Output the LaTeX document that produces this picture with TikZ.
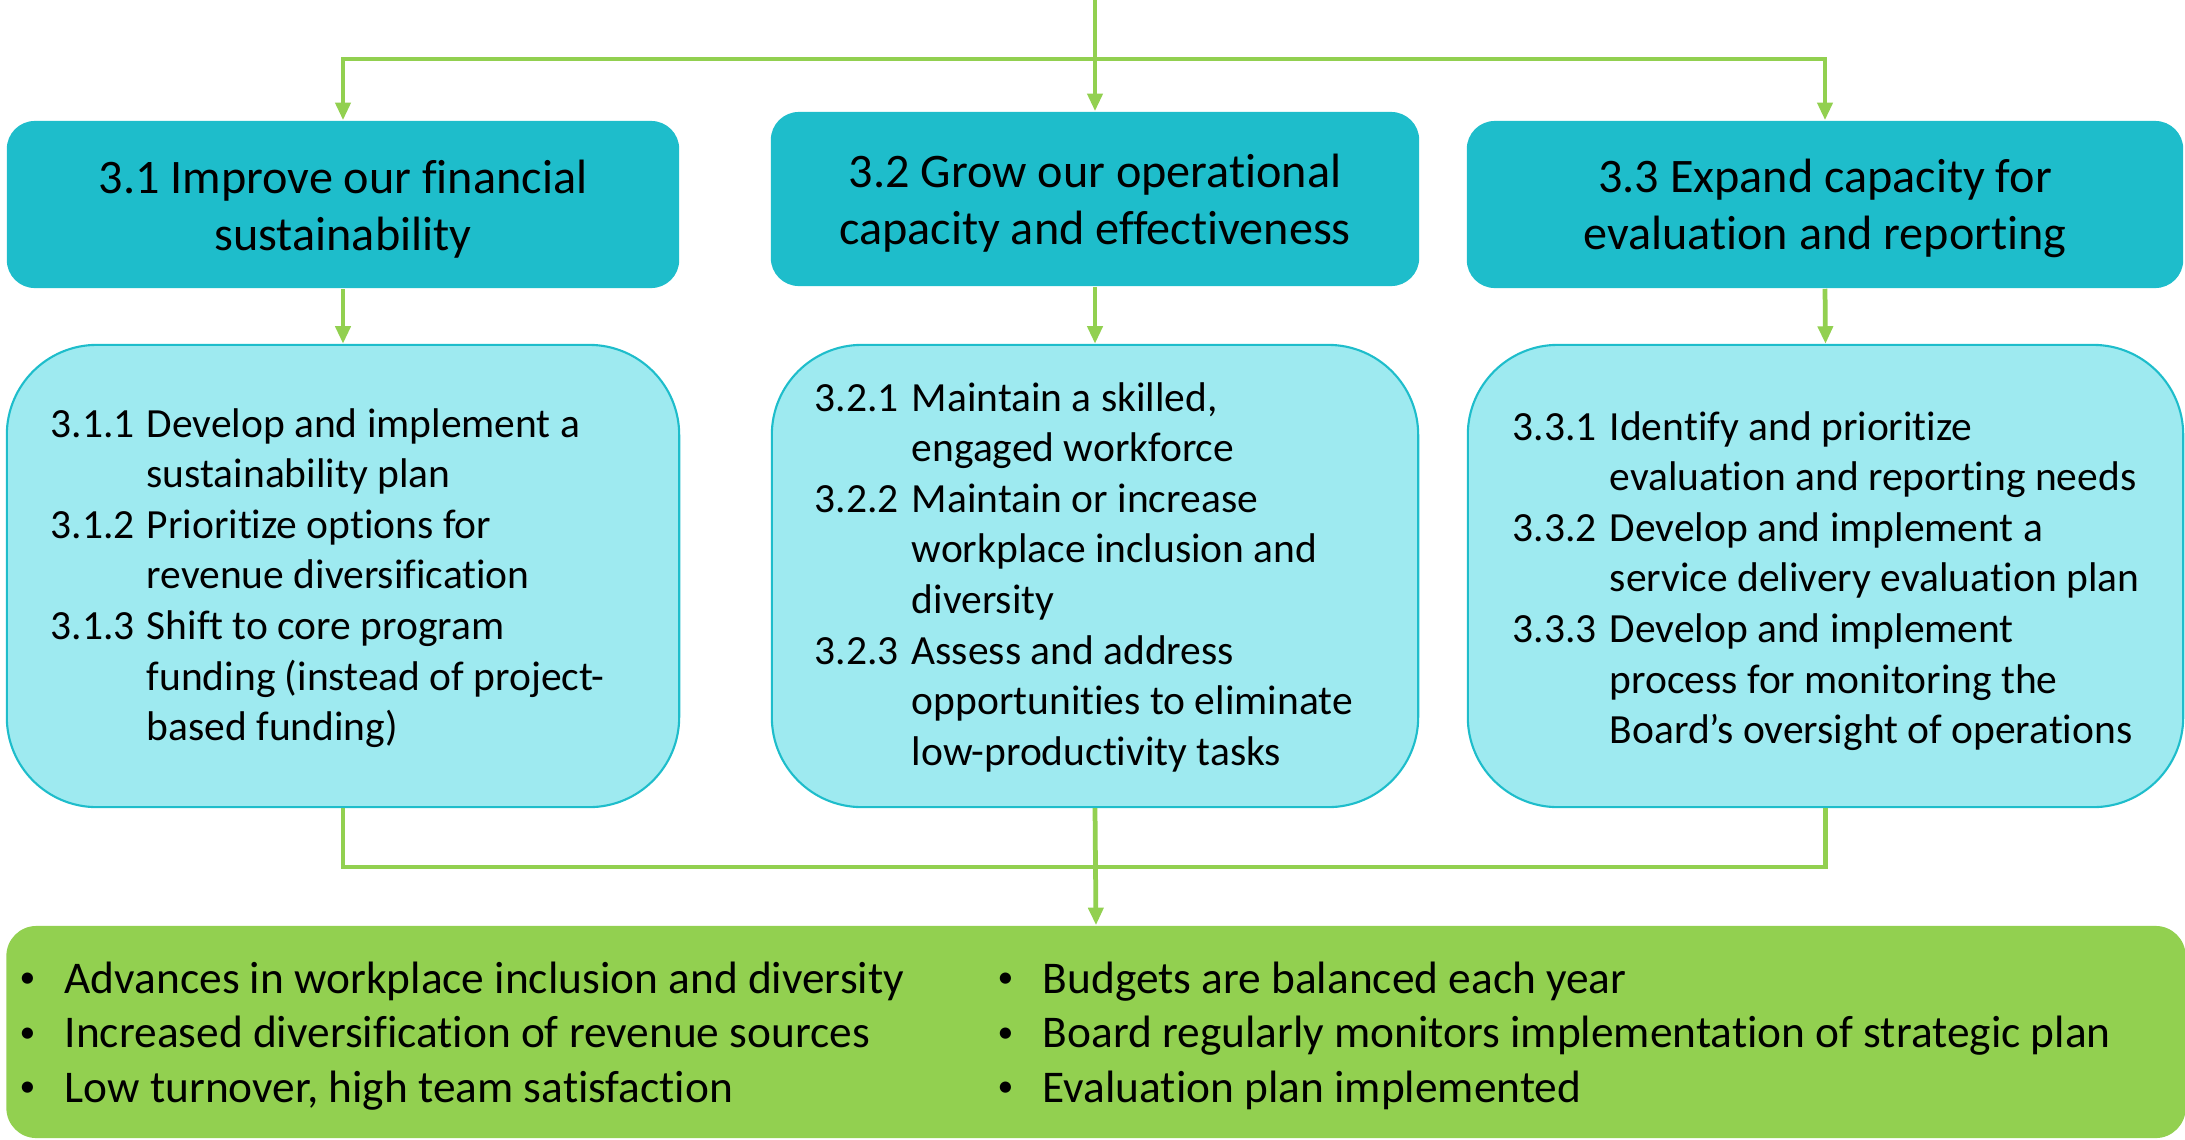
\documentclass[tikz,border=0pt]{standalone}
\usepackage{fontspec}
\setmainfont{Carlito}[Ligatures=CommonOff]
\usetikzlibrary{arrows.meta}
\definecolor{headteal}{RGB}{30,189,203}
\definecolor{subaqua}{RGB}{158,234,240}
\definecolor{leafgreen}{RGB}{146,208,80}
\newcommand{\dotmark}{\raisebox{0.12em}{\fontsize{9}{9}\selectfont\textbullet}}
\begin{document}
\begin{tikzpicture}[x=0.01cm,y=-0.01cm,>={Triangle[length=5pt,width=4.2pt]},
    flow/.style={draw=leafgreen,line width=1.35pt},
    head/.style={fill=headteal,rounded corners=0.28cm,inner sep=0pt,align=center,font=\fontsize{13.7}{16.2}\selectfont},
    sub/.style={fill=subaqua,draw=headteal,line width=0.6pt,rounded corners=0.9cm,minimum height=4.62cm,inner sep=0pt},
    items/.style={anchor=base west,inner sep=0pt,font=\fontsize{11.8}{14.4}\selectfont},
    outcome/.style={anchor=base west,inner sep=0pt,font=\fontsize{12.9}{15.5}\selectfont}]
\useasboundingbox (0,0) rectangle (2185,1139);
\node[head,minimum width=6.72cm,minimum height=1.67cm] (h31) at (343,204.5) {\rule{0pt}{12pt}3.1 Improve our financial\\sustainability};
\node[head,minimum width=6.48cm,minimum height=1.74cm] (h32) at (1095,199) {\rule{0pt}{12pt}3.2 Grow our operational\\capacity and effectiveness};
\node[head,minimum width=7.16cm,minimum height=1.67cm] (h33) at (1825,204.5) {\rule{0pt}{12pt}3.3 Expand capacity for\\evaluation and reporting};
\node[sub,minimum width=6.72cm] (s31) at (343,576) {};
\node[sub,minimum width=6.46cm] (s32) at (1095,576) {};
\node[sub,minimum width=7.15cm] (s33) at (1825.5,576) {};
\node[fill=leafgreen,rounded corners=0.3cm,minimum width=21.78cm,minimum height=2.12cm,inner sep=0pt] (out) at (1096,1032) {};
\node[items] (t31) at (50,437) {\begin{tabular}[t]{@{}p{0.96cm}@{}l@{}}
3.1.1 & Develop and implement a\\ & sustainability plan\\
3.1.2 & Prioritize options for\\ & revenue diversification\\
3.1.3 & Shift to core program\\ & funding (instead of project-\\ & based funding)\end{tabular}};
\node[items] (t32) at (814,411) {\begin{tabular}[t]{@{}p{0.97cm}@{}l@{}}
3.2.1 & Maintain a skilled,\\ & engaged workforce\\
3.2.2 & Maintain or increase\\ & workplace inclusion and\\ & diversity\\
3.2.3 & Assess and address\\ & opportunities to eliminate\\ & low-productivity tasks\end{tabular}};
\node[items] (t33) at (1512,440) {\begin{tabular}[t]{@{}p{0.97cm}@{}l@{}}
3.3.1 & Identify and prioritize\\ & evaluation and reporting needs\\
3.3.2 & Develop and implement a\\ & service delivery evaluation plan\\
3.3.3 & Develop and implement\\ & process for monitoring the\\ & Board’s oversight of operations\end{tabular}};
\node[outcome] (o1) at (19,993) {\begin{tabular}[t]{@{}p{0.45cm}@{}l@{}}
\dotmark & Advances in workplace inclusion and diversity\\
\dotmark & Increased diversification of revenue sources\\
\dotmark & Low turnover, high team satisfaction\end{tabular}};
\node[outcome] (o2) at (997,993) {\begin{tabular}[t]{@{}p{0.45cm}@{}l@{}}
\dotmark & Budgets are balanced each year\\
\dotmark & Board regularly monitors implementation of strategic plan\\
\dotmark & Evaluation plan implemented\end{tabular}};
\coordinate (top) at (1095,0);
\coordinate (split) at (1095,59);
\coordinate (merge) at (1095,867);
\draw[flow,->] (top) -- (h32.north);
\draw[flow,->] (split) -| (h31.north);
\draw[flow,->] (split) -| (h33.north);
\foreach \i in {1,2,3} \draw[flow,->] (h3\i.south) -- (s3\i.north);
\draw[flow] (s31.south) |- (merge) -| (s33.south);
\draw[flow,->] (s32.south) -- (out.north);
\end{tikzpicture}
\end{document}
